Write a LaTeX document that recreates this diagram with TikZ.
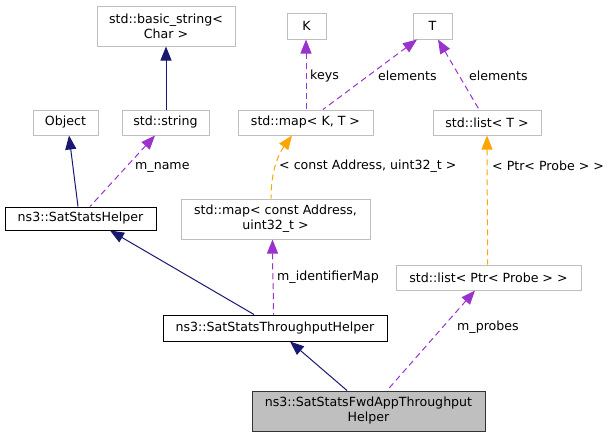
\documentclass[tikz,border=0pt]{standalone}
\usepackage{fontspec}
\setmainfont{DejaVu Sans}
\usetikzlibrary{arrows.meta,calc}
\definecolor{navy}{HTML}{191970}
\definecolor{purp}{HTML}{9A32CD}
\definecolor{orng}{HTML}{FFA500}
\definecolor{boxgray}{HTML}{BFBFBF}
\begin{document}
\begin{tikzpicture}[x=1pt,y=-1pt,
  box/.style={draw=boxgray,line width=1pt,fill=white,inner sep=0pt,align=center,font=\fontsize{12.6}{15}\selectfont},
  blackbox/.style={box,draw=black},
  mainbox/.style={box,draw=black!80,fill=boxgray},
  inh/.style={draw=navy,line width=1pt,{Triangle[length=14pt,width=11pt]}-},
  mem/.style={draw=purp,line width=1pt,dash pattern=on 6pt off 4pt,{Triangle[length=14pt,width=11pt]}-},
  tmpl/.style={draw=orng,line width=1pt,dash pattern=on 6pt off 4pt,{Triangle[length=14pt,width=11pt]}-},
  lbl/.style={anchor=west,inner sep=0pt,font=\fontsize{12.6}{15}\selectfont}]
\useasboundingbox (0,0) rectangle (613,437);
% nodes
\node[box,minimum width=138pt,minimum height=40pt] (bs) at (166,26) {std::basic\_string\textless\\Char \textgreater};
\node[box,minimum width=65pt,minimum height=25pt] (obj) at (65.5,122.5) {Object};
\node[box,minimum width=87pt,minimum height=25pt] (str) at (165.5,122.5) {std::string};
\node[box,minimum width=135pt,minimum height=25pt] (mapKT) at (305.5,122.5) {std::map\textless{} K, T \textgreater};
\node[box,minimum width=39pt,minimum height=26pt] (K) at (306.5,26) {K};
\node[box,minimum width=39pt,minimum height=26pt] (T) at (432.5,26) {T};
\node[box,minimum width=108pt,minimum height=25pt] (listT) at (487,122.5) {std::list\textless{} T \textgreater};
\node[blackbox,minimum width=151pt,minimum height=23pt] (helper) at (80.5,218.5) {ns3::SatStatsHelper};
\node[box,minimum width=189pt,minimum height=40pt] (mapAddr) at (275.5,219) {std::map\textless{} const Address,\\uint32\_t \textgreater};
\node[box,minimum width=185pt,minimum height=25pt] (listProbe) at (488.5,277.5) {std::list\textless{} Ptr\textless{} Probe \textgreater{} \textgreater};
\node[blackbox,minimum width=224pt,minimum height=26pt] (tput) at (275,328) {ns3::SatStatsThroughputHelper};
\node[mainbox,minimum width=233pt,minimum height=40pt] (fwd) at (368.5,411) {ns3::SatStatsFwdAppThroughput\\Helper};
% edges
\draw[inh] (bs.south -| 166,0) -- (str.north -| 166,0);
\draw[inh] (obj.south -| 69,0) -- (helper.north -| 78,0);
\draw[mem] (str.south -| 155,0) -- (helper.north -| 90,0);
\node[lbl] (lname) at (135,167) {m\_name};
\draw[mem] (K.south -| 306,0) -- (mapKT.north -| 306,0);
\node[lbl] (lkeys) at (310,76) {keys};
\draw[mem] (T.south -| 417,0) -- (mapKT.north -| 323,0);
\node[lbl] (lel1) at (378,76) {elements};
\draw[mem] (T.south -| 438,0) -- (listT.north -| 479,0);
\node[lbl] (lel2) at (469,76) {elements};
\draw[tmpl] (mapKT.south -| 292,0) .. controls (280,152) and (271,168) .. (mapAddr.north -| 271,0);
\node[lbl] (lca) at (279,166) {\textless{} const Address, uint32\_t \textgreater};
\draw[tmpl] (listT.south -| 487,0) .. controls (487,180) and (487.6,220) .. (listProbe.north -| 487.6,0);
\node[lbl] (lpp) at (492,166) {\textless{} Ptr\textless{} Probe \textgreater{} \textgreater};
\draw[mem] (mapAddr.south -| 272.5,0) .. controls (272.5,270) and (273.5,290) .. (tput.north -| 273.5,0);
\node[lbl] (lid) at (277,277) {m\_identifierMap};
\draw[inh] (helper.south -| 110,0) -- (tput.north -| 254,0);
\draw[inh] (tput.south -| 290,0) -- (fwd.north -| 347,0);
\draw[mem] (listProbe.south -| 475,0) -- (fwd.north -| 387,0);
\node[lbl] (lpr) at (457,327) {m\_probes};
\end{tikzpicture}
\end{document}
